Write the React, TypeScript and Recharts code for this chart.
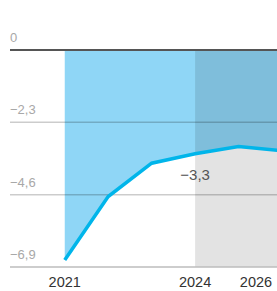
import React from "react";
import {
  ComposedChart,
  Area,
  Line,
  XAxis,
  YAxis,
  ReferenceLine,
  ReferenceArea,
} from "recharts";

const years = [2021, 2022, 2023, 2024, 2025, 2026];
const values = [-6.68, -4.66, -3.6, -3.3, -3.07, -3.2];
const yTicks = [0, -2.3, -4.6, -6.9];
const xTicks = [2021, 2024, 2026];
const gridValues = [-2.3, -4.6];
const forecastStart = 2024;
const forecastEnd = 2026;
const labelledYear = 2024;

const data = years.map((y, i) => ({ year: y, value: values[i] }));

const fmt = (v: number) =>
  (v < 0 ? "\u2212" : "") + Math.abs(v).toString().replace(".", ",");

const FONT = "'Liberation Sans', Arial, sans-serif";

const XTick = (props: any) => {
  const { x, payload } = props;
  const cx = Math.min(x, 256);
  return (
    <text x={cx} y={287} fill="#333" fontSize={14.5} fontFamily={FONT} textAnchor="middle">
      {payload.value}
    </text>
  );
};

const PointLabel = (props: any) => {
  const { x, y, index } = props;
  if (data[index]?.year !== labelledYear) return null;
  return (
    <text x={x} y={y + 26} fill="#555" fontSize={15} fontFamily={FONT} textAnchor="middle">
      {fmt(data[index].value)}
    </text>
  );
};

const makeYLabel = (v: number) => (props: any) => {
  const vb = props.viewBox || {};
  return (
    <text x={10} y={vb.y - 8} fill="#a8a8a8" fontSize={13} fontFamily={FONT} textAnchor="start">
      {fmt(v)}
    </text>
  );
};

const lineStyle = (v: number) => {
  if (v === 0) return { stroke: "#555", strokeWidth: 2, strokeOpacity: 1 };
  if (gridValues.includes(v)) return { stroke: "#000", strokeWidth: 1.5, strokeOpacity: 0.2 };
  return { stroke: "#bdbdbd", strokeWidth: 1.5, strokeOpacity: 1 };
};

export default function App() {
  return (
    <div
      style={{
        position: "absolute",
        left: 0,
        top: 0,
        width: 277,
        height: 291,
        overflow: "hidden",
        background: "#fff",
      }}
    >
      <ComposedChart
        width={282}
        height={291}
        data={data}
        margin={{ top: 50, right: 0, bottom: 0, left: 10 }}
      >
        <XAxis
          dataKey="year"
          type="number"
          domain={[2019.74, 2026]}
          ticks={xTicks}
          axisLine={false}
          tickLine={false}
          height={24}
          tick={<XTick />}
          interval={0}
        />
        <YAxis type="number" domain={[-6.9, 0]} ticks={yTicks} hide />
        <Area
          dataKey="value"
          type="linear"
          baseValue={0}
          fill="#8fd6f6"
          fillOpacity={1}
          stroke="none"
          isAnimationActive={false}
        />
        {yTicks
          .filter((v) => v !== 0)
          .map((v) => (
            <ReferenceLine key={v} y={v} {...lineStyle(v)} label={makeYLabel(v)} />
          ))}
        <ReferenceArea
          x1={forecastStart}
          x2={forecastEnd}
          y1={-6.9}
          y2={0}
          fill="#000"
          fillOpacity={0.11}
          stroke="none"
        />
        <ReferenceLine y={0} {...lineStyle(0)} label={makeYLabel(0)} />
        <Line
          dataKey="value"
          type="linear"
          stroke="#00b5ea"
          strokeWidth={3.5}
          dot={false}
          isAnimationActive={false}
          label={<PointLabel />}
        />
      </ComposedChart>
    </div>
  );
}
